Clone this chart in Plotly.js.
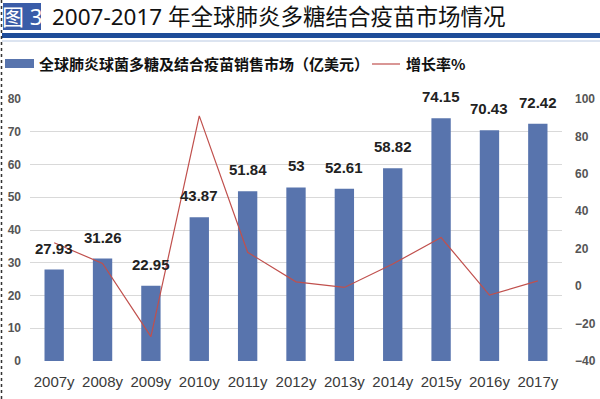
<!DOCTYPE html>
<html>
<head>
<meta charset="utf-8">
<script src="https://cdn.plot.ly/plotly-3.0.1.min.js"></script>
<style>html,body{margin:0;padding:0;background:#fff;}#chart{width:600px;height:399px;}</style>
</head>
<body>
<div id="chart"></div>
<script>
// Data
const years = ['2007y','2008y','2009y','2010y','2011y','2012y','2013y','2014y','2015y','2016y','2017y'];
const marketValues = [27.93, 31.26, 22.95, 43.87, 51.84, 53, 52.61, 58.82, 74.15, 70.43, 72.42];
const growthRates = [23.2, 12.1, -27.0, 91.0, 18.1, 2.3, -0.7, 11.8, 26.0, -4.8, 2.8];
const leftTicks = [0, 10, 20, 30, 40, 50, 60, 70, 80];
const rightTicks = [-40, -20, 0, 20, 40, 60, 80, 100];
const seriesNames = ['全球肺炎球菌多糖及结合疫苗销售市场（亿美元）', '增长率%'];
const chartTitle = '2007-2017 年全球肺炎多糖结合疫苗市场情况';
const figLabel = '图 3';

const BAR = '#5874ad', RED = '#c0504d';
const W = 600, H = 399, L = 30, R = 38, T = 99, B = 38;
const pw = W - L - R, ph = H - T - B;
const px = x => (x - L) / pw;
const py = y => (H - B - y) / ph;

const sans = '"Liberation Sans", Arial, sans-serif';
const cjk = '"Noto Sans", "Noto Sans CJK SC", sans-serif';

const traces = [
  {type: 'bar', x: years, y: marketValues, name: seriesNames[0], marker: {color: BAR}, width: 0.4, hoverinfo: 'x+y'},
  {type: 'scatter', mode: 'lines', x: years, y: growthRates, name: seriesNames[1], yaxis: 'y2', line: {color: RED, width: 1.2}}
];

const annotations = marketValues.map((v, i) => ({
  x: years[i], y: v, xref: 'x', yref: 'y', text: String(v), showarrow: false,
  yanchor: 'bottom', yshift: 11, font: {family: sans, size: 15, color: '#222', weight: 'bold'}
}));
annotations.push(
  {xref: 'paper', yref: 'paper', x: px(22), y: py(16.5), text: figLabel, showarrow: false,
   xanchor: 'center', yanchor: 'middle', font: {family: cjk, size: 22, color: '#fff'}},
  {xref: 'paper', yref: 'paper', x: px(37), y: py(63.5), text: '<b>' + seriesNames[0] + '</b>', showarrow: false,
   xanchor: 'left', yanchor: 'middle', font: {family: '"Noto Sans CJK SC", sans-serif', size: 15, color: '#111'}},
  {xref: 'paper', yref: 'paper', x: px(404), y: py(63.5), text: '<b>' + seriesNames[1] + '</b>', showarrow: false,
   xanchor: 'left', yanchor: 'middle', font: {family: '"Noto Sans CJK SC", sans-serif', size: 15, color: '#111'}}
);

const shapes = [
  {type: 'rect', xref: 'paper', yref: 'paper', x0: px(3), x1: px(41), y0: py(30), y1: py(3), fillcolor: '#3a5ca8', line: {width: 0}},
  {type: 'rect', xref: 'paper', yref: 'paper', x0: px(2), x1: px(600), y0: py(38), y1: py(33), fillcolor: '#1e4c98', line: {width: 0}},
  {type: 'line', xref: 'paper', yref: 'paper', x0: px(2), x1: px(600), y0: py(41), y1: py(41), line: {color: '#b9c9e2', width: 1}},
  {type: 'line', xref: 'paper', yref: 'paper', x0: px(1.5), x1: px(1.5), y0: py(0), y1: py(399), line: {color: '#333', width: 1.5, dash: 'dot'}},
  {type: 'rect', xref: 'paper', yref: 'paper', x0: px(5), x1: px(34), y0: py(68), y1: py(59), fillcolor: BAR, line: {width: 0}},
  {type: 'line', xref: 'paper', yref: 'paper', x0: px(372), x1: px(400), y0: py(64), y1: py(64), line: {color: RED, width: 1.2}}
];

const layout = {
  width: W, height: H,
  margin: {l: L, r: R, t: T, b: B, pad: 0},
  paper_bgcolor: '#fff', plot_bgcolor: '#fff',
  showlegend: false,
  title: {text: chartTitle, x: 52 / W, xanchor: 'left', xref: 'container', y: 1 - 17 / H, yanchor: 'middle', yref: 'container',
          font: {family: cjk, size: 22.5, color: '#111'}},
  xaxis: {type: 'category', range: [-0.5, 10.5], showgrid: false, showline: false, ticks: '', zeroline: false,
          tickangle: 0, tickfont: {family: sans, size: 15, color: '#3a3a3a'}, ticklabelstandoff: 10},
  yaxis: {range: [0, 80], tickvals: leftTicks, showgrid: true, gridcolor: '#d9d9d9', gridwidth: 1, zeroline: false,
          showline: false, ticks: '', tickfont: {family: sans, size: 12, color: '#555', weight: 'bold'}, ticklabelstandoff: 8},
  yaxis2: {range: [-40, 100], tickvals: rightTicks, overlaying: 'y', side: 'right', showgrid: false, zeroline: false,
           showline: false, ticks: '', tickfont: {family: sans, size: 12, color: '#555', weight: 'bold'}, ticklabelstandoff: 12},
  annotations: annotations,
  shapes: shapes
};

Plotly.newPlot('chart', traces, layout, {displayModeBar: false, staticPlot: true});
</script>
</body>
</html>
